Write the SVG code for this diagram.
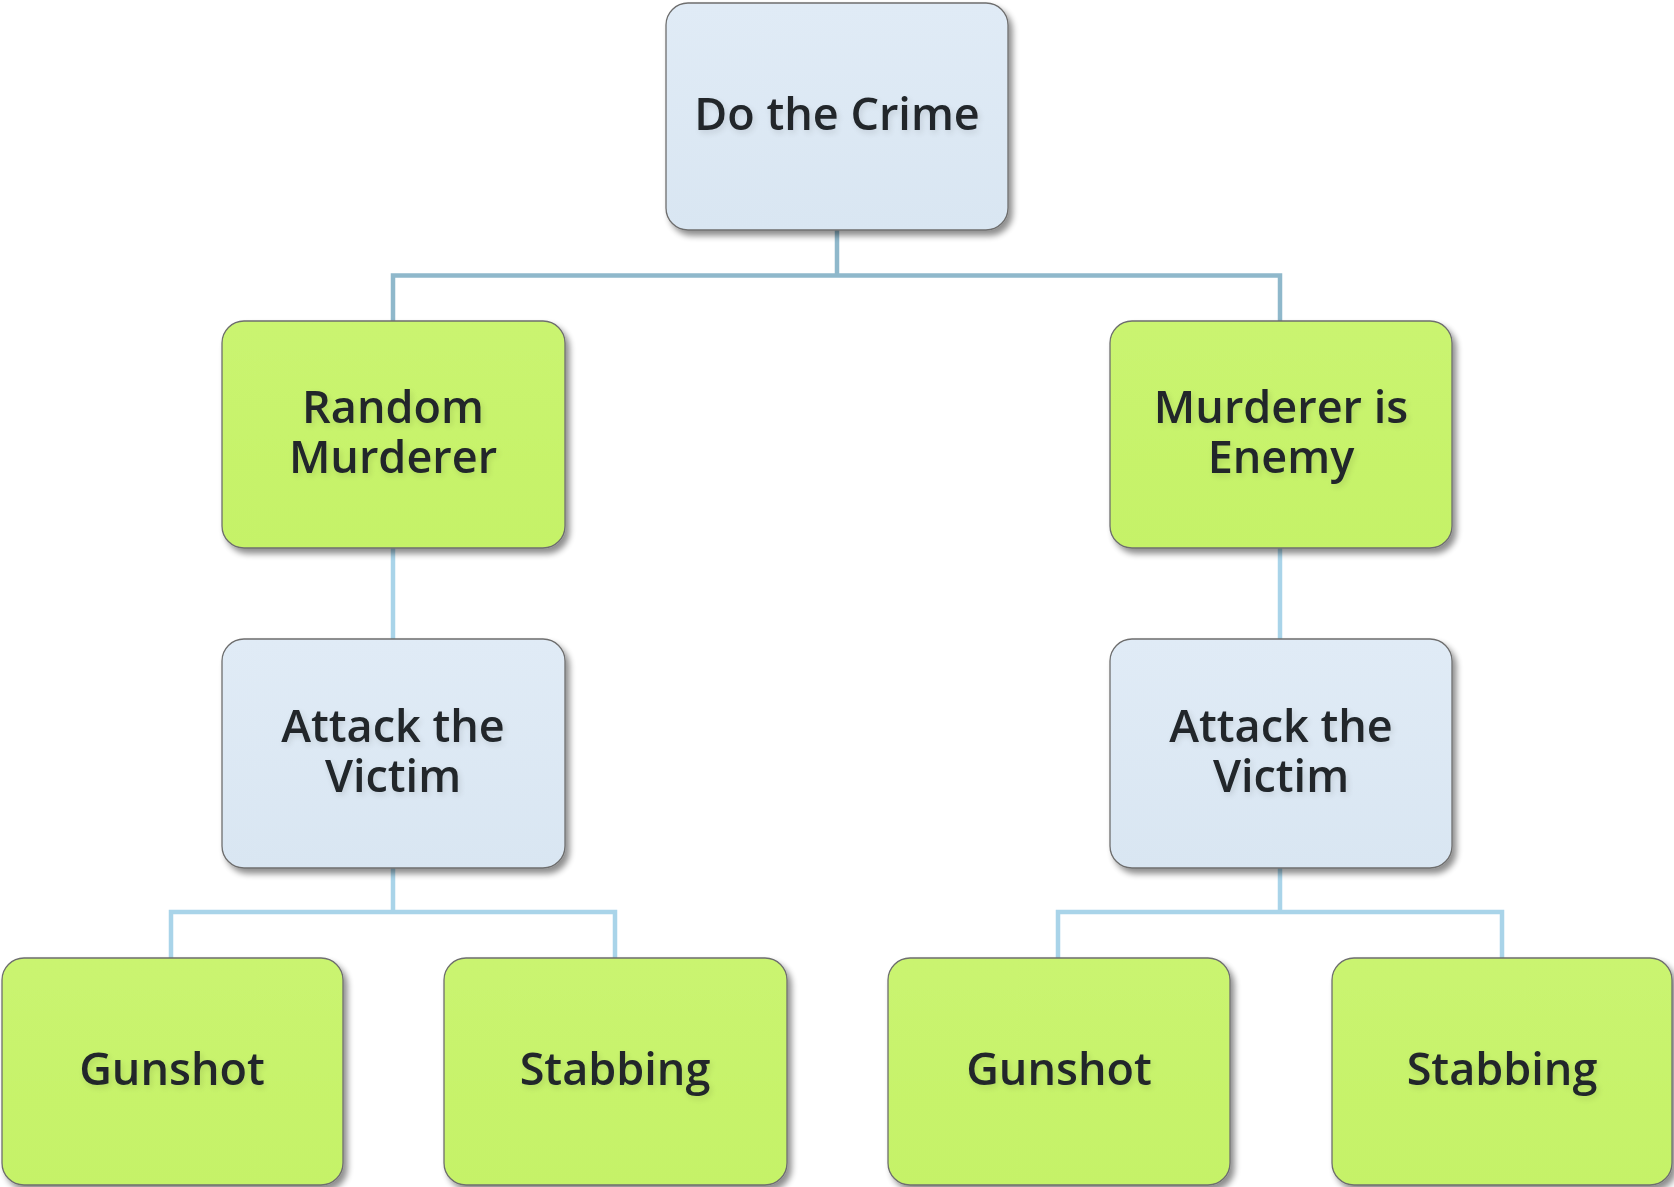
<svg xmlns="http://www.w3.org/2000/svg" width="1674" height="1187" viewBox="0 0 1674 1187">
<defs>
<filter id="sh" x="-10%" y="-10%" width="125%" height="125%">
<feGaussianBlur in="SourceAlpha" stdDeviation="3"/>
<feOffset dx="4" dy="5" result="b"/>
<feComponentTransfer><feFuncA type="linear" slope="0.45"/></feComponentTransfer>
<feMerge><feMergeNode/><feMergeNode in="SourceGraphic"/></feMerge>
</filter>
<filter id="tg" x="-10%" y="-20%" width="120%" height="140%">
<feGaussianBlur in="SourceAlpha" stdDeviation="3"/>
<feOffset dx="2" dy="3"/>
<feComponentTransfer><feFuncA type="linear" slope="0.12"/></feComponentTransfer>
<feMerge><feMergeNode/><feMergeNode in="SourceGraphic"/></feMerge>
</filter>
<linearGradient id="gb" x1="0" y1="0" x2="0" y2="1">
<stop offset="0" stop-color="#e0ebf6"/><stop offset="1" stop-color="#d9e6f2"/>
</linearGradient>
<linearGradient id="gg" x1="0" y1="0" x2="0" y2="1">
<stop offset="0" stop-color="#caf470"/><stop offset="1" stop-color="#c5f268"/>
</linearGradient>
</defs>
<style>
.nb{fill:url(#gb);stroke:#6e6e6e;stroke-width:1.3;filter:url(#sh)}
.ng{fill:url(#gg);stroke:#6e6e6e;stroke-width:1.3;filter:url(#sh)}
.t{font-family:"Open Sans","Liberation Sans",sans-serif;font-weight:600;font-size:45px;fill:#20272b;text-anchor:middle;filter:url(#tg)}
.c1{fill:none;stroke:#8fb8cb;stroke-width:4.5}
.c2{fill:none;stroke:#a9d4e9;stroke-width:4.5}
</style>
<rect width="1674" height="1187" fill="#ffffff"/>
<g id="connectors">
<path class="c1" d="M837 230 V275.5 H393 V321 M837 275.5 H1280 V321"/>
<path class="c2" d="M393 548 V639"/>
<path class="c2" d="M1280 548 V639"/>
<path class="c2" d="M393 868 V912 H171 V958 M393 912 H615 V958"/>
<path class="c2" d="M1280 868 V912 H1058 V958 M1280 912 H1502 V958"/>
</g>
<g id="n-crime">
<rect class="nb" x="666" y="3" width="342" height="227" rx="22"/>
<text class="t" x="837" y="130">Do the Crime</text>
</g>
<g id="n-random">
<rect class="ng" x="222" y="321" width="343" height="227" rx="22"/>
<text class="t" x="393" y="423">Random<tspan x="393" dy="50">Murderer</tspan></text>
</g>
<g id="n-enemy">
<rect class="ng" x="1110" y="321" width="342" height="227" rx="22"/>
<text class="t" x="1281" y="423">Murderer is<tspan x="1281" dy="50">Enemy</tspan></text>
</g>
<g id="n-attack-left">
<rect class="nb" x="222" y="639" width="343" height="229" rx="22"/>
<text class="t" x="393" y="742">Attack the<tspan x="393" dy="50">Victim</tspan></text>
</g>
<g id="n-attack-right">
<rect class="nb" x="1110" y="639" width="342" height="229" rx="22"/>
<text class="t" x="1281" y="742">Attack the<tspan x="1281" dy="50">Victim</tspan></text>
</g>
<g id="n-gunshot-left">
<rect class="ng" x="2" y="958" width="341" height="227" rx="22"/>
<text class="t" x="172" y="1085">Gunshot</text>
</g>
<g id="n-stabbing-left">
<rect class="ng" x="444" y="958" width="343" height="227" rx="22"/>
<text class="t" x="615" y="1085">Stabbing</text>
</g>
<g id="n-gunshot-right">
<rect class="ng" x="888" y="958" width="342" height="227" rx="22"/>
<text class="t" x="1059" y="1085">Gunshot</text>
</g>
<g id="n-stabbing-right">
<rect class="ng" x="1332" y="958" width="340" height="227" rx="22"/>
<text class="t" x="1502" y="1085">Stabbing</text>
</g>
</svg>
